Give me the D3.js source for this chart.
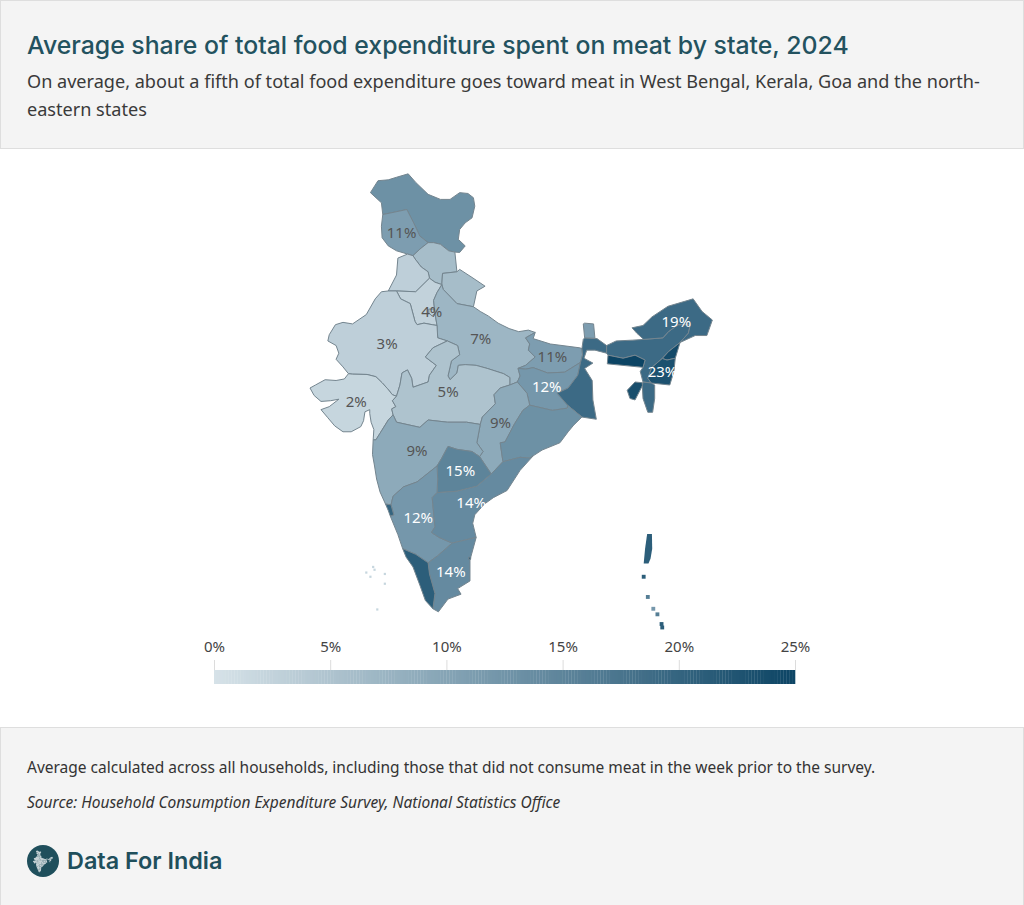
<!DOCTYPE html>
<html>
<head>
<meta charset="utf-8">
<script src="https://cdn.jsdelivr.net/npm/d3@7/dist/d3.min.js"></script>
<style>
  html, body { margin: 0; padding: 0; background: #fff; }
  svg { display: block; }
</style>
</head>
<body>
<svg id="chart" width="1024" height="905"></svg>
<script>
// State values, % of food expenditure on meat (labelled ones are read, the rest estimated from colour)
var stateNames = ["Ladakh", "Jammu and Kashmir", "Himachal Pradesh", "Punjab", "Uttarakhand", "Haryana", "Delhi",
  "Uttar Pradesh", "Rajasthan", "Gujarat", "Madhya Pradesh", "Bihar", "Jharkhand", "West Bengal", "Chhattisgarh",
  "Odisha", "Maharashtra", "Telangana", "Karnataka", "Andhra Pradesh", "Tamil Nadu", "Kerala", "Goa", "Sikkim",
  "Assam", "Arunachal Pradesh", "Nagaland", "Meghalaya", "Manipur", "Mizoram", "Tripura", "Puducherry"];
var stateValues = [13, 11, 6, 3, 6, 2.5, 4, 7, 3, 2, 5, 11, 12, 19, 9, 13, 9, 15, 12, 14, 14, 21, 20, 11, 19, 19, 24, 25, 23, 19, 23.5, 22];

// Only these states carry a label on the map
var labelledStates = ["Jammu and Kashmir", "Delhi", "Uttar Pradesh", "Rajasthan", "Gujarat", "Madhya Pradesh", "Bihar",
  "Jharkhand", "Chhattisgarh", "Maharashtra", "Telangana", "Karnataka", "Andhra Pradesh", "Tamil Nadu",
  "Arunachal Pradesh", "Manipur"];

var legendTicks = [0, 5, 10, 15, 20, 25];

// State outlines, [lon, lat]
var stateRings = {
  "Ladakh": [[72.6,36],[73.15,36.7],[73.9,36.75],[74.5,36.9],[75.35,37.1],[75.9,36.6],[76.8,35.9],[77.7,35.6],[78.4,35.6],[79.1,36],[79.7,35.95],[80.1,35.7],[80.2,35.2],[80,34.5],[79.5,34.2],[79.1,33.8],[79,33.2],[79.5,32.8],[79.1,32.4],[78.75,32.42],[78.3,32.5],[77.7,32.9],[77.2,33],[76.8,33],[76.2,33.4],[75.75,34.2],[75.25,35],[74.4,34.85],[73.5,34.7],[73.4,35.4]],
  "Jammu and Kashmir": [[73.5,34.7],[74.4,34.85],[75.25,35],[75.75,34.2],[76.2,33.4],[76.8,33],[76.2,32.6],[75.7,32.2],[75.3,32.3],[74.5,32.5],[73.9,32.8],[73.45,33.3],[73.4,34]],
  "Himachal Pradesh": [[75.7,32.2],[76.2,32.6],[76.8,33],[77.2,33],[77.7,32.9],[78.3,32.5],[78.75,32.42],[78.9,31.2],[77.85,31.1],[77.8,30.4],[77.3,30.55],[76.9,30.8],[76.8,31.2],[76.3,31.5],[75.85,32]],
  "Punjab": [[74.6,32.05],[75.3,32.3],[75.7,32.2],[75.85,32],[76.3,31.5],[76.8,31.2],[76.9,30.8],[75.9,29.95],[74.5,30],[73.9,30],[74.5,31]],
  "Uttarakhand": [[77.85,31.1],[78.9,31.2],[79.1,31.35],[80,30.85],[80.95,30.3],[80.35,30],[80.1,29],[78.9,29.2],[77.9,30.1],[77.8,30.4]],
  "Haryana": [[76.9,30.8],[77.3,30.55],[77.8,30.4],[77.45,29.9],[77.2,29.4],[77.3,28.6],[77.45,27.8],[77.1,27.85],[76.5,27.95],[76,27.85],[75.85,28.05],[75.5,29.2],[74.8,29.5],[74.5,30],[75.9,29.95]],
  "Delhi": [[76.85,28.85],[77.2,28.85],[77.3,28.6],[77.1,28.4],[76.85,28.6]],
  "Uttar Pradesh": [[77.8,30.4],[77.9,30.1],[78.9,29.2],[80.1,29],[80.6,28.7],[81.2,28.4],[81.9,27.95],[82.7,27.6],[83.4,27.4],[84.1,27.5],[84.6,27.35],[83.9,27],[84.2,26.6],[84.1,26.2],[84.6,25.75],[83.9,25.2],[83.35,25],[83.5,24.5],[83.3,24.1],[82.75,23.9],[82.75,24.4],[82.3,24.65],[81.1,25],[80.3,25.2],[79.5,25.25],[79,25.2],[78.9,24.7],[78.4,24.25],[78.25,24.5],[78.5,25.5],[79.1,25.9],[78.95,26.5],[78.2,26.8],[77.5,27],[77.45,27.8],[77.3,28.6],[77.2,29.4],[77.45,29.9]],
  "Rajasthan": [[71,24.65],[70.6,25.1],[70.1,25.6],[70.3,26],[70.1,26.5],[69.5,26.8],[69.6,27.2],[70.05,27.85],[70.6,28],[71.3,27.9],[72.3,28.5],[72.95,29.5],[73.4,29.95],[73.9,30],[74.5,30],[74.8,29.5],[75.5,29.2],[75.85,28.05],[76,27.85],[76.5,27.95],[77.1,27.85],[77.45,27.8],[77.5,27],[78.2,26.8],[77.15,26.35],[76.6,25.75],[77.4,25.2],[76.9,24.55],[76.8,24.1],[75.7,23.75],[75.6,24.35],[75.3,24.9],[74.9,24.7],[74.75,23.9],[74.5,23.15],[74.2,23.25],[73.85,23.65],[73.45,24.05],[73,24.45],[72.35,24.6],[71.3,24.62]],
  "Gujarat": [[68.2,23.7],[68.6,23.9],[69.3,24.25],[70.1,24.2],[70.7,24.3],[71,24.65],[71.3,24.62],[72.35,24.6],[73,24.45],[73.45,24.05],[73.85,23.65],[74.2,23.25],[74.5,23.15],[74.2,22.85],[74.45,22.45],[74.15,22.3],[74.25,21.9],[73.9,21.55],[73.3,20.65],[73,20.2],[72.8,20.2],[72.85,20.9],[72.65,21.4],[72.55,22],[72.55,22.25],[72.2,22.1],[72.1,21.5],[71.9,21.1],[71.2,20.75],[70.6,20.75],[70,21.15],[69.5,21.7],[69,22.25],[69.6,22.45],[70.3,22.95],[69.7,22.85],[69,22.8],[68.5,23.2]],
  "Madhya Pradesh": [[74.5,23.15],[74.75,23.9],[74.9,24.7],[75.3,24.9],[75.6,24.35],[75.7,23.75],[76.8,24.1],[76.9,24.55],[77.4,25.2],[76.6,25.75],[77.15,26.35],[78.2,26.8],[78.95,26.5],[79.1,25.9],[78.5,25.5],[78.25,24.5],[78.4,24.25],[78.9,24.7],[79,25.2],[79.5,25.25],[80.3,25.2],[81.1,25],[82.3,24.65],[82.75,24.4],[82.75,23.9],[82.05,23.7],[81.6,23.25],[81.7,22.65],[80.75,21.75],[80.6,21.25],[79.6,21.4],[78.2,21.4],[76.8,21.55],[76.2,21.05],[74.5,21.4],[74.25,21.9],[74.15,22.3],[74.45,22.45],[74.2,22.85]],
  "Bihar": [[84.6,27.35],[84.45,26.95],[85.7,26.6],[87.85,26.35],[88,26.3],[88.05,25.9],[87.9,25.4],[86.75,24.75],[85.5,24.7],[84.45,25.05],[83.9,24.95],[83.35,25],[83.9,25.2],[84.6,25.75],[84.1,26.2],[84.2,26.6],[83.9,27]],
  "Jharkhand": [[83.35,25],[83.9,24.95],[84.45,25.05],[85.5,24.7],[86.75,24.75],[87.9,25.4],[87.7,24.55],[87,23.7],[86.2,23.35],[86.95,22.55],[86.95,22.35],[85.85,22.2],[84.2,22.55],[84,23.35],[83.3,24.1],[83.5,24.5]],
  "West Bengal": [[88.2,27],[89.1,26.95],[89.8,26.5],[89.8,26],[88.95,26.2],[88.35,26.2],[88.15,25.67],[88.8,25.35],[88.2,25],[88.75,24.2],[88.8,22.9],[89.05,21.6],[88,21.75],[86.95,22.55],[86.2,23.35],[87,23.7],[87.7,24.55],[87.9,25.4],[88.05,25.9],[88,26.3],[88.1,26.9]],
  "Chhattisgarh": [[82.75,23.9],[83.3,24.1],[84,23.35],[84.2,22.55],[83.7,22.2],[83.1,21.3],[82.4,20.05],[82.05,20],[82.25,18.7],[81.4,17.85],[80.55,19.05],[80.8,19.4],[80.35,20],[80.6,21.25],[80.75,21.75],[81.7,22.65],[81.6,23.25],[82.05,23.7]],
  "Odisha": [[84.2,22.55],[85.85,22.2],[86.95,22.35],[86.95,22.55],[88,21.75],[87.4,21.2],[87,20.75],[86.4,20],[85.1,19.5],[84.45,19.1],[84.2,18.95],[83.5,19],[82.25,18.7],[82.05,20],[82.4,20.05],[83.1,21.3],[83.7,22.2]],
  "Maharashtra": [[73,20.2],[73.3,20.65],[73.9,21.55],[74.25,21.9],[74.5,21.4],[76.2,21.05],[76.8,21.55],[78.2,21.4],[79.6,21.4],[80.6,21.25],[80.35,20],[80.8,19.4],[80.55,19.05],[80,19.4],[78.9,19.55],[78.25,19.75],[77.8,18.95],[77.45,18.4],[76,17.3],[75,16.95],[74.25,16.3],[74.1,15.7],[73.7,15.75],[73.3,16.6],[73.05,17.5],[72.9,18.4],[72.75,19.2],[72.8,20.2]],
  "Telangana": [[78.25,19.75],[78.9,19.55],[80,19.4],[80.55,19.05],[81.4,17.85],[80.35,17],[78.9,16.65],[77.45,16.55],[77.5,17.5],[77.45,18.4],[77.8,18.95]],
  "Karnataka": [[74.1,15.7],[74.25,16.3],[75,16.95],[76,17.3],[77.45,18.4],[77.5,17.5],[77.45,16.55],[77.1,16.2],[77.3,14.15],[77.05,13.75],[77.6,13.4],[78.55,13],[77.5,12.1],[76.8,11.6],[75.9,12.2],[74.95,12.6],[74.6,13.6],[74.05,14.9],[74.3,15]],
  "Andhra Pradesh": [[77.45,16.55],[78.9,16.65],[80.35,17],[81.4,17.85],[82.25,18.7],[83.5,19],[84.2,18.95],[84.45,19.1],[83.5,18.1],[82.55,16.7],[81.55,16.2],[80.9,15.75],[80.2,15],[80.05,14.4],[80.3,13.4],[78.55,13],[77.6,13.4],[77.05,13.75],[77.3,14.15],[77.1,16.2]],
  "Tamil Nadu": [[76.8,11.6],[77.5,12.1],[78.55,13],[80.3,13.4],[79.85,11.8],[79.85,10.3],[78.95,9.75],[79.2,9.35],[78.25,9],[77.55,8.08],[77.15,8.3],[77.3,9.4],[76.9,10.8]],
  "Kerala": [[74.95,12.6],[75.9,12.2],[76.8,11.6],[76.9,10.8],[77.3,9.4],[77.15,8.3],[76.6,8.9],[76.2,10],[75.7,11.3],[75.2,12]],
  "Goa": [[73.7,15.75],[74.1,15.7],[74.3,15],[74.05,14.9],[73.9,15.3]],
  "Sikkim": [[88.2,27],[88.1,27.9],[88.2,27.95],[88.85,27.9],[88.95,26.97]],
  "Assam": [[89.8,26.5],[90.5,26.8],[91.7,26.85],[92.5,26.9],[93.9,27],[94.3,27.4],[95,27.85],[95.9,27.85],[95.75,27.3],[95.15,26.7],[94.3,26.1],[93.85,25.65],[93.1,25.07],[92.8,24.35],[93.05,24.03],[92.45,24.1],[92.25,24.8],[92.45,25.07],[92.6,25.55],[91.87,25.87],[91,25.67],[89.9,25.87],[89.8,26]],
  "Arunachal Pradesh": [[92.5,26.9],[92,27.3],[91.65,27.65],[92.45,27.8],[93.1,28.35],[94.27,29.03],[96.1,29.5],[96.75,28.7],[97.5,28.15],[97.1,27.15],[96.25,27.15],[95.15,26.7],[95.75,27.3],[95.9,27.85],[95,27.85],[94.3,27.4],[93.9,27]],
  "Nagaland": [[95.15,26.7],[94.8,25.67],[94.2,25.55],[93.85,25.65],[94.3,26.1]],
  "Meghalaya": [[89.9,25.87],[91,25.67],[91.87,25.87],[92.6,25.55],[92.45,25.07],[89.85,25.3]],
  "Manipur": [[93.85,25.65],[94.2,25.55],[94.8,25.67],[94.7,24.8],[94.4,23.9],[93.05,24.03],[92.8,24.35],[93.1,25.07]],
  "Mizoram": [[92.45,24.1],[93.05,24.03],[93.3,23.9],[93.3,23],[93.15,22.07],[92.8,22.07],[92.45,23],[92.4,23.85]],
  "Tripura": [[91.3,23.55],[91.87,24.1],[92.4,24.05],[92.4,23.85],[91.87,22.9],[91.5,23]],
  "Puducherry": [[79.75,12],[79.9,12],[79.9,11.85],[79.75,11.85]]
};

// Island groups: main Andaman ring, then small islands as [lon, lat, value]
var andamanRing = [[92.75,13.65],[93.1,13.65],[93.12,12.6],[93,11.9],[92.85,11.55],[92.5,11.55],[92.6,12.6]];
var andamanValue = 21;
var smallIslands = [[92.5,10.6,21],[92.8,9.15,16],[93.2,8.3,12],[93.5,7.9,16],[93.8,7.2,21],[93.85,6.95,21],
  [72.3,10.9,2],[72.8,11.3,2],[72.9,11.1,2],[72.6,10.6,2],[73.65,10.1,2],[73.1,8.25,2],[73.65,10.8,2]];

var title = "Average share of total food expenditure spent on meat by state, 2024";
var subtitleLines = ["On average, about a fifth of total food expenditure goes toward meat in West Bengal, Kerala, Goa and the north-", "eastern states"];
var note = "Average calculated across all households, including those that did not consume meat in the week prior to the survey.";
var source = "Source: Household Consumption Expenditure Survey, National Statistics Office";
var brand = "Data For India";

var svg = d3.select("#chart");
var bodyFont = "'Noto Sans', sans-serif";
var headFont = "Inter, sans-serif";

// Panels
svg.append("rect").attr("width", 1024).attr("height", 905).attr("fill", "#fff");
svg.append("rect").attr("x", 0.5).attr("y", 0.5).attr("width", 1023).attr("height", 148)
  .attr("fill", "#f4f4f4").attr("stroke", "#dedede");
svg.append("rect").attr("x", 0.5).attr("y", 727.5).attr("width", 1023).attr("height", 178)
  .attr("fill", "#f4f4f4").attr("stroke", "#dedede");

svg.append("text").attr("x", 27).attr("y", 54).attr("font-family", headFont).attr("font-size", 24.8)
  .attr("font-weight", 500).attr("fill", "#23525f").text(title);

svg.selectAll(".subtitle").data(subtitleLines).enter().append("text")
  .attr("class", "subtitle").attr("x", 27).attr("y", function(d, i) { return 88 + i * 28; })
  .attr("font-family", bodyFont).attr("font-size", 18.1).attr("fill", "#3a3a3a").text(function(d) { return d; });

svg.append("text").attr("x", 27).attr("y", 773).attr("font-family", bodyFont).attr("font-size", 15.5)
  .attr("fill", "#333").text(note);
svg.append("text").attr("x", 27).attr("y", 808).attr("font-family", bodyFont).attr("font-size", 15.5)
  .attr("font-style", "italic").attr("fill", "#333").text(source);

// Colour scale shared by the map and the legend
var color = d3.scaleLinear().domain([0, 12.5, 25]).range(["#d6e2e8", "#7194a8", "#0c4464"]);

// Map
var projection = d3.geoMercator().scale(786.8).center([68.2, 23.7]).translate([310, 388]).precision(0);
var path = d3.geoPath(projection);

// Spherical polygons need the right winding, otherwise they fill the whole globe
function polygon(ring) {
  var closed = ring.concat([ring[0]]);
  var f = { type: "Polygon", coordinates: [closed] };
  if (d3.geoArea(f) > 2 * Math.PI) f.coordinates = [closed.slice().reverse()];
  return f;
}
function islandRing(d) {
  var r = d[2] < 5 ? 0.08 : 0.14; // the pale western islands are barely specks
  return [[d[0] - r, d[1] - r], [d[0] + r, d[1] - r], [d[0] + r, d[1] + r], [d[0] - r, d[1] + r]];
}

var stateFeatures = stateNames.map(function(name, i) {
  return { name: name, value: stateValues[i], geo: polygon(stateRings[name]) };
});

var mapGroup = svg.append("g");
mapGroup.selectAll("path.state").data(stateFeatures).enter().append("path")
  .attr("class", "state")
  .attr("d", function(d) { return path(d.geo); })
  .attr("fill", function(d) { return color(d.value); })
  .attr("stroke", "#74858f").attr("stroke-width", 1).attr("stroke-linejoin", "round");

mapGroup.append("path").attr("d", path(polygon(andamanRing))).attr("fill", color(andamanValue));
mapGroup.selectAll("path.island").data(smallIslands).enter().append("path")
  .attr("class", "island")
  .attr("d", function(d) { return path(polygon(islandRing(d))); })
  .attr("fill", function(d) { return color(d[2]); });

// Labels sit on the centroid of the state
mapGroup.selectAll("text.value")
  .data(stateFeatures.filter(function(d) { return labelledStates.indexOf(d.name) >= 0; }))
  .enter().append("text")
  .attr("class", "value")
  .attr("x", function(d) { return path.centroid(d.geo)[0]; })
  .attr("y", function(d) { return path.centroid(d.geo)[1]; })
  .attr("dy", "0.35em").attr("text-anchor", "middle")
  .attr("font-family", bodyFont).attr("font-size", 15)
  .attr("fill", function(d) { return d.value >= 12 ? "#fff" : "#555"; })
  .text(function(d) { return Math.round(d.value) + "%"; });

// Legend
var legendX = d3.scaleLinear().domain([0, 25]).range([214, 795]);
var legendSteps = d3.range(0, 25, 25 / 200);
svg.append("g").selectAll("rect").data(legendSteps).enter().append("rect")
  .attr("x", function(d) { return legendX(d); })
  .attr("y", 670).attr("height", 14)
  .attr("width", (legendX(25) - legendX(0)) / 200 + 0.3)
  .attr("fill", function(d) { return color(d); });

var legendAxis = d3.axisTop(legendX).tickValues(legendTicks).tickSize(10).tickPadding(8)
  .tickFormat(function(d) { return d + "%"; });
var legendG = svg.append("g").attr("transform", "translate(0,670)").call(legendAxis);
legendG.select(".domain").remove();
legendG.selectAll("line").attr("stroke", "#dcdcdc");
legendG.selectAll("text").attr("font-family", bodyFont).attr("font-size", 15).attr("fill", "#444");

// Logo: a small India in a circle, from the same outlines
var logo = svg.append("g");
logo.append("circle").attr("cx", 43).attr("cy", 861).attr("r", 16).attr("fill", "#1f4f5c");
var allStates = { type: "FeatureCollection", features: stateFeatures.map(function(d) {
  return { type: "Feature", geometry: d.geo };
}) };
var logoPath = d3.geoPath(d3.geoMercator().fitExtent([[32, 850.5], [54, 872.5]], allStates));
logo.selectAll("path").data(stateFeatures).enter().append("path")
  .attr("d", function(d) { return logoPath(d.geo); })
  .attr("fill", "#c3d0d4");
svg.append("text").attr("x", 67).attr("y", 869).attr("font-family", headFont).attr("font-size", 23.4)
  .attr("font-weight", 600).attr("fill", "#1f4f5c").text(brand);
</script>
</body>
</html>
